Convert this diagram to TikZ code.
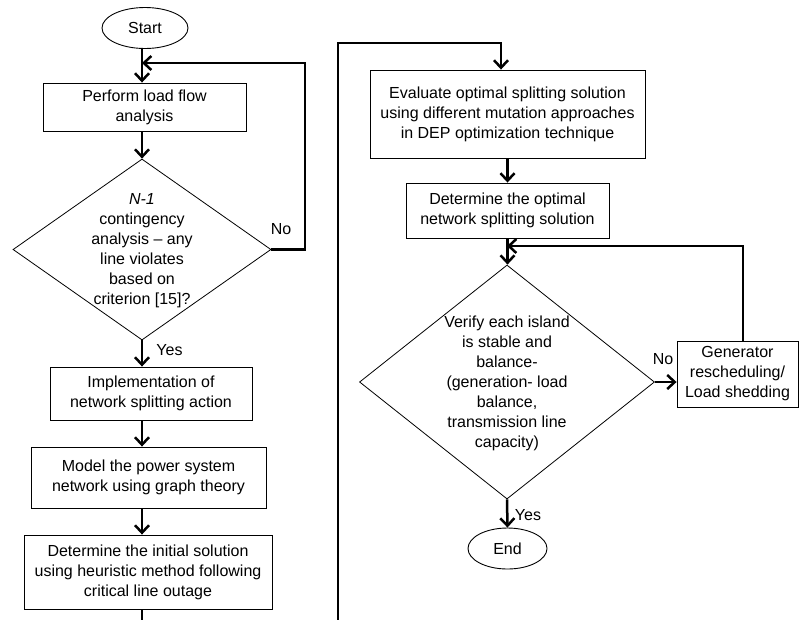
\documentclass[tikz,border=0pt]{standalone}
\usepackage{fontspec}
\setmainfont{Liberation Sans}
\usetikzlibrary{arrows.meta, shapes.geometric}

\tikzset{
    process/.style={rectangle, draw, line width=0.9pt, inner sep=0pt, align=center},
    decision/.style={diamond, draw, line width=0.8pt, inner sep=0pt},
    terminal/.style={ellipse, draw, line width=0.9pt, inner sep=0pt},
    flow/.style={-{Straight Barb[length=7.5pt, width=14pt]}, line width=2.5pt},
}

\begin{document}
\begin{tikzpicture}[x=1pt, y=-1pt, font=\fontsize{16}{20}\selectfont]
            \useasboundingbox (0,0) rectangle (799,619);
            \clip (0,0) rectangle (799,619);

            % left column
            \node[terminal, minimum width=86, minimum height=41] at (145, 28)   (start) {Start};
            \node[process, minimum width=203, minimum height=48] at (144.5, 107) (flow) {Perform load flow\\analysis};
            \node[decision, minimum width=258, minimum height=181] at (142, 249.5) (n1) {};
            \node[align=center] at (142, 251) (n1 text) {\textit{N-1}\\contingency\\analysis – any\\line violates\\based on\\criterion [15]?};
            \node[process, minimum width=202, minimum height=53] at (151, 393.5) (split) {Implementation of\\network splitting action};
            \node[process, minimum width=235, minimum height=61] at (148.5, 477.5) (graph) {Model the power system\\network using graph theory};
            \node[process, minimum width=248, minimum height=74] at (148, 572) (init) {Determine the initial solution\\using heuristic method following\\critical line outage};

            % right column
            \node[process, minimum width=275, minimum height=88] at (507.5, 114) (eval) {Evaluate optimal splitting solution\\using different mutation approaches\\in DEP optimization technique};
            \node[process, minimum width=203, minimum height=55] at (507.5, 210.5) (best) {Determine the optimal\\network splitting solution};
            \node[decision, minimum width=295, minimum height=234] at (507, 382) (verify) {};
            \node[align=center] at (507, 383) (verify text) {Verify each island\\is stable and\\balance-\\(generation- load\\balance,\\transmission line\\capacity)};
            \node[process, minimum width=121, minimum height=66] at (737.5, 374) (gen) {Generator\\rescheduling/\\Load shedding};
            \node[terminal, minimum width=79, minimum height=41] at (507.5, 548.5) (end) {End};

            \coordinate (loop) at (305, 63);
            \coordinate (under) at (338, 640);
            \coordinate (over) at (501, 43);
            \coordinate (back) at (743, 246);

            \draw [flow] (start.south -| n1.north) -- (flow.north -| n1.north);
            \draw [flow] (flow.south -| n1.north) -- (n1.north);
            \draw [flow] (n1.east) -| (loop) -- (loop -| n1.north);
            \draw [flow] (n1.south) -- (split.north -| n1.south);
            \draw [flow] (split.south -| n1.south) -- (graph.north -| n1.south);
            \draw [flow] (graph.south -| n1.south) -- (init.north -| n1.south);
            \draw [flow] (init.south -| n1.south) |- (under) |- (over) -- (over |- eval.north);
            \draw [flow] (eval.south) -- (best.north);
            \draw [flow] (best.south) -- (best.south |- verify.north);
            \draw [flow] (verify.east) -- (verify.east -| gen.west);
            \draw [flow] (gen.north -| back) -- (back) -- (back -| verify.north);
            \draw [flow] (verify.south) -- (end.north);

            \node at (281, 229) (no left) {No};
            \node at (169.5, 350) (yes left) {Yes};
            \node at (663, 359) (no right) {No};
            \node at (528, 515) (yes right) {Yes};
        \end{tikzpicture}
\end{document}
